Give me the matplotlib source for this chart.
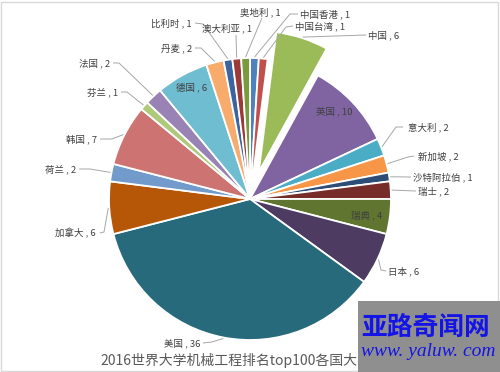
import matplotlib
matplotlib.use('Agg')
import matplotlib.pyplot as plt
import numpy as np
from matplotlib.patches import Rectangle

plt.rcParams['font.family'] = ['Noto Sans CJK SC', 'DejaVu Sans']

# ---------------- data ----------------
countries = ['中国香港', '中国台湾', '中国', '英国', '意大利', '新加坡', '沙特阿拉伯',
             '瑞士', '瑞典', '日本', '美国', '加拿大', '荷兰', '韩国', '芬兰', '法国',
             '德国', '丹麦', '比利时', '澳大利亚', '奥地利']
counts = [1, 1, 6, 10, 2, 2, 1, 2, 4, 6, 36, 6, 2, 7, 1, 2, 6, 2, 1, 1, 1]
title = '2016世界大学机械工程排名top100各国大学分布'

# ---------------- style ----------------
colors = ['#4F81BD', '#C0504D', '#9BBB59', '#8064A2', '#4BACC6', '#F79646',
          '#2C4D75', '#772C2A', '#5F7530', '#4D3B62', '#276A7C', '#B65708',
          '#729ACA', '#CD7371', '#AFC97A', '#9983B5', '#6FBDD1', '#F9AB6B',
          '#3B64A0', '#9B3A38', '#7A9A40']

W, H = 500, 372
CX, CY, R = 250, 199, 141  # pixel layout of the pie
explode = [0.2 * R if c == '中国' else 0 for c in countries]

def py(y):
    return H - y

# label layout: (x_px, y_px, ha, leader polyline in px or None)
layout = {
    '中国香港': (300, 14, 'left', [(298, 14), (290, 14)]),
    '中国台湾': (295, 26, 'left', [(293, 26), (286, 27)]),
    '中国': (368, 35, 'left', [(366, 35), (305, 37)]),
    '英国': (334, 111, 'center', None),
    '意大利': (408, 127, 'left', [(403, 127), (396, 127)]),
    '新加坡': (418, 156, 'left', [(414, 156), (408, 157)]),
    '沙特阿拉伯': (413, 177, 'left', [(411, 177)]),
    '瑞士': (418, 191, 'left', [(416, 191)]),
    '瑞典': (367, 215, 'center', None),
    '日本': (388, 271, 'left', [(386, 271), (381, 270)]),
    '美国': (200, 343, 'right', [(203, 343), (212, 342)]),
    '加拿大': (96, 233, 'right', [(100, 233), (104, 232)]),
    '荷兰': (76, 169, 'right', [(79, 169), (90, 169)]),
    '韩国': (97, 139, 'right', [(100, 139), (112, 139)]),
    '芬兰': (118, 92, 'right', [(121, 92), (127, 92)]),
    '法国': (110, 63, 'right', [(113, 63), (119, 63)]),
    '德国': (192, 87, 'center', None),
    '丹麦': (192, 48, 'right', [(195, 48), (201, 48)]),
    '比利时': (192, 23, 'right', [(195, 23), (203, 24)]),
    '澳大利亚': (252, 28, 'right', [(236, 35)]),
    '奥地利': (281, 12, 'right', [(262, 18)]),
}

fig = plt.figure(figsize=(5, 3.72), dpi=100)
fig.patch.set_facecolor('white')
ax = fig.add_axes([0, 0, 1, 1])

wedges, _ = ax.pie(counts, colors=colors, startangle=90, counterclock=False,
                   center=(CX, py(CY)), radius=R, explode=explode,
                   wedgeprops=dict(edgecolor='white', linewidth=1.3))
ax.set_xlim(0, W)
ax.set_ylim(0, H)
ax.set_aspect('equal')
ax.axis('off')

label_color = '#404040'
line_color = '#A6A6A6'
for name, val, w in zip(countries, counts, wedges):
    x, y, ha, pts = layout[name]
    ax.text(x, py(y), f'{name} , {val}', ha=ha, va='center',
            fontsize=6.8, color=label_color)
    if pts is not None:
        ang = np.deg2rad((w.theta1 + w.theta2) / 2)
        cx, cy = w.center
        r = w.r + 1
        ex, ey = cx + r * np.cos(ang), cy + r * np.sin(ang)
        xs = [p[0] for p in pts] + [ex]
        ys = [py(p[1]) for p in pts] + [ey]
        ax.plot(xs, ys, color=line_color, lw=0.7, solid_capstyle='butt')

# title
ax.text(W / 2, py(360), title, ha='center', va='center', fontsize=10,
        color='#595959')

# frame
ax.add_patch(Rectangle((1, 1), W - 3, H - 3, fill=False, edgecolor='#D9D9D9',
                       lw=1.0))

# watermark box
ax.add_patch(Rectangle((358, 0), W - 358, py(301), facecolor='#8F8F8F',
                       edgecolor='none', zorder=5))
ax.text(426, py(327), '亚路奇闻网', ha='center', va='center', fontsize=18.5,
        color='#1414E6', fontweight='bold', zorder=6)
ax.text(428, py(351), 'www. yaluw. com', ha='center', va='center', fontsize=14,
        color='#1414E6', style='italic', family='Liberation Serif', zorder=6)

fig.savefig('out.png', dpi=100, facecolor='white')
